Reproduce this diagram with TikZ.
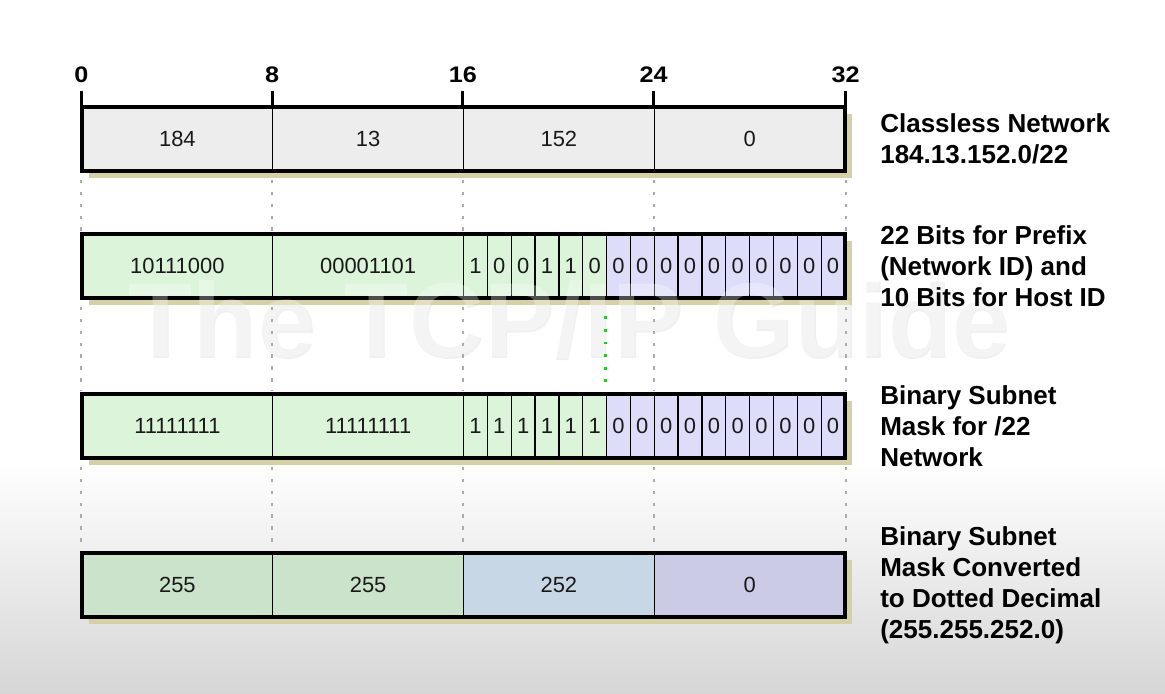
\documentclass[tikz,border=0pt]{standalone}
\usepackage{fontspec}
\usepackage{graphicx}
\setmainfont{Liberation Sans}
\definecolor{shadowc}{HTML}{D6D0A6}
\definecolor{grayfill}{HTML}{EDEDED}
\definecolor{netgreen}{HTML}{DCF5DA}
\definecolor{hostlav}{HTML}{DDDDF9}
\definecolor{maskgreen}{HTML}{CBE3CA}
\definecolor{maskblue}{HTML}{C7D7E6}
\definecolor{masklav}{HTML}{CBCBE6}
\definecolor{guidegray}{HTML}{ABABAB}
\definecolor{splitgreen}{HTML}{22CC22}
\definecolor{bgbottom}{HTML}{D6D6D6}
\begin{document}
\begin{tikzpicture}[x=0.025cm, y=-0.025cm,
  cell/.style={draw=black, line width=0.9pt, inner sep=0pt,
    minimum height=64*0.025cm, text=black!90,
    font=\fontsize{15.6}{18}\selectfont},
  byte/.style={cell, minimum width=190.75*0.025cm},
  bit/.style={cell, minimum width=23.84375*0.025cm},
  frame/.style={draw=black, line width=2.2pt, inner sep=0pt,
    minimum width=763*0.025cm, minimum height=64*0.025cm},
  shadowbox/.style={fill=shadowc},
  tick/.style={line width=2.2pt},
  ticklabel/.style={inner sep=0pt, font=\fontsize{16}{18}\selectfont\bfseries},
  guide/.style={guidegray, line width=1.4pt, dash pattern=on 2.5pt off 6pt},
  split/.style={splitgreen, line width=2.2pt, dash pattern=on 2pt off 7pt},
  lbl/.style={anchor=west, align=left, inner sep=0pt,
    font=\fontsize{18.5}{22}\selectfont\bfseries},
  mark text/.style={inner sep=0pt, anchor=base west,
    font=\fontsize{74.7}{80}\selectfont\bfseries}
]
\useasboundingbox (0,0) rectangle (1165,694);
% page background
\fill[white] (0,0) rectangle (1165,694);
\shade[top color=white, bottom color=bgbottom] (0,460) rectangle (1165,694);

% watermark, lower layer
\node[mark text, text=black!6] at (129.5,358.5) {The TCP/IP Guide};

% ---------- row 1: classless network ----------
\fill[shadowbox] (89,114) rectangle (852,178);
\foreach \k/\v in {0/184,1/13,2/152,3/0}
  \node[byte, fill=grayfill] (r1c\k) at ({82+23.84375*(8*\k+4)},139) {\v};
\node[frame] (r1) at (463.5,139) {};

% ---------- row 2: prefix and host bits ----------
\fill[shadowbox] (89,241) rectangle (852,305);
\node[byte, fill=netgreen] (r2c0) at ({82+23.84375*4},266) {10111000};
\node[byte, fill=netgreen] (r2c1) at ({82+23.84375*12},266) {00001101};
\foreach \j/\v in {16/1,17/0,18/0,19/1,20/1,21/0}
  \node[bit, fill=netgreen] (r2b\j) at ({82+23.84375*(\j+0.5)},266) {\v};
\foreach \j in {22,...,31}
  \node[bit, fill=hostlav] (r2b\j) at ({82+23.84375*(\j+0.5)},266) {0};
\node[frame] (r2) at (463.5,266) {};

% ---------- row 3: binary mask ----------
\fill[shadowbox] (89,401) rectangle (852,465);
\node[byte, fill=netgreen] (r3c0) at ({82+23.84375*4},426) {11111111};
\node[byte, fill=netgreen] (r3c1) at ({82+23.84375*12},426) {11111111};
\foreach \j in {16,...,21}
  \node[bit, fill=netgreen] (r3b\j) at ({82+23.84375*(\j+0.5)},426) {1};
\foreach \j in {22,...,31}
  \node[bit, fill=hostlav] (r3b\j) at ({82+23.84375*(\j+0.5)},426) {0};
\node[frame] (r3) at (463.5,426) {};

% ---------- row 4: dotted decimal mask ----------
\fill[shadowbox] (89,560) rectangle (852,624);
\foreach \k/\v/\c in {0/255/maskgreen,1/255/maskgreen,2/252/maskblue,3/0/masklav}
  \node[byte, fill=\c] (r4c\k) at ({82+23.84375*(8*\k+4)},585) {\v};
\node[frame] (r4) at (463.5,585) {};

% watermark, upper layer
\node[mark text, text=white, text opacity=0.3] at (128,357) {The TCP/IP Guide};

% ---------- bit position ticks ----------
\foreach \k/\n in {0/0,1/8,2/16,3/24}{
  \draw[tick] (r1c\k.north west) -- ++(0,-15) coordinate (tk\k);
  \node[ticklabel, anchor=base] at ([yshift=6.4pt]tk\k) {\scalebox{1.12}[1]{\n}};
}
\draw[tick] (r1c3.north east) -- ++(0,-15) coordinate (tk4);
\node[ticklabel, anchor=base] at ([yshift=6.4pt]tk4) {\scalebox{1.12}[1]{32}};

% ---------- vertical guides between rows ----------
\draw[guide, shorten <=5.7pt, shorten >=2pt] (r1c0.south west) -- (r2c0.north west);
\draw[guide, shorten <=5.7pt, shorten >=2pt] (r1c1.south west) -- (r2c1.north west);
\draw[guide, shorten <=5.7pt, shorten >=2pt] (r1c2.south west) -- (r2b16.north west);
\draw[guide, shorten <=5.7pt, shorten >=2pt] (r1c3.south west) -- (r2b24.north west);
\draw[guide, shorten <=5.7pt, shorten >=2pt] (r1c3.south east) -- (r2b31.north east);

\draw[guide, shorten <=5.7pt, shorten >=2pt] (r2c0.south west) -- (r3c0.north west);
\draw[guide, shorten <=5.7pt, shorten >=2pt] (r2c1.south west) -- (r3c1.north west);
\draw[guide, shorten <=5.7pt, shorten >=2pt] (r2b16.south west) -- (r3b16.north west);
\draw[guide, shorten <=5.7pt, shorten >=2pt] (r2b24.south west) -- (r3b24.north west);
\draw[guide, shorten <=5.7pt, shorten >=2pt] (r2b31.south east) -- (r3b31.north east);

\draw[guide, shorten <=5.7pt, shorten >=2pt] (r3c0.south west) -- (r4c0.north west);
\draw[guide, shorten <=5.7pt, shorten >=2pt] (r3c1.south west) -- (r4c1.north west);
\draw[guide, shorten <=5.7pt, shorten >=2pt] (r3b16.south west) -- (r4c2.north west);
\draw[guide, shorten <=5.7pt, shorten >=2pt] (r3b24.south west) -- (r4c3.north west);
\draw[guide, shorten <=5.7pt, shorten >=2pt] (r3b31.south east) -- (r4c3.north east);

% prefix / host boundary
\draw[split, shorten <=12.5pt, shorten >=7.5pt] (r2b22.south west) -- (r3b22.north west);

% ---------- row captions ----------
\node[lbl] (l1) at (880,139) {Classless Network\\184.13.152.0/22};
\node[lbl] (l2) at (880,266) {22 Bits for Prefix\\(Network ID) and\\10 Bits for Host ID};
\node[lbl] (l3) at (880,426) {Binary Subnet\\Mask for /22\\Network};
\node[lbl] (l4) at (880,585) {Binary Subnet\\Mask Converted\\to Dotted Decimal\\(255.255.252.0)};
\end{tikzpicture}
\end{document}
